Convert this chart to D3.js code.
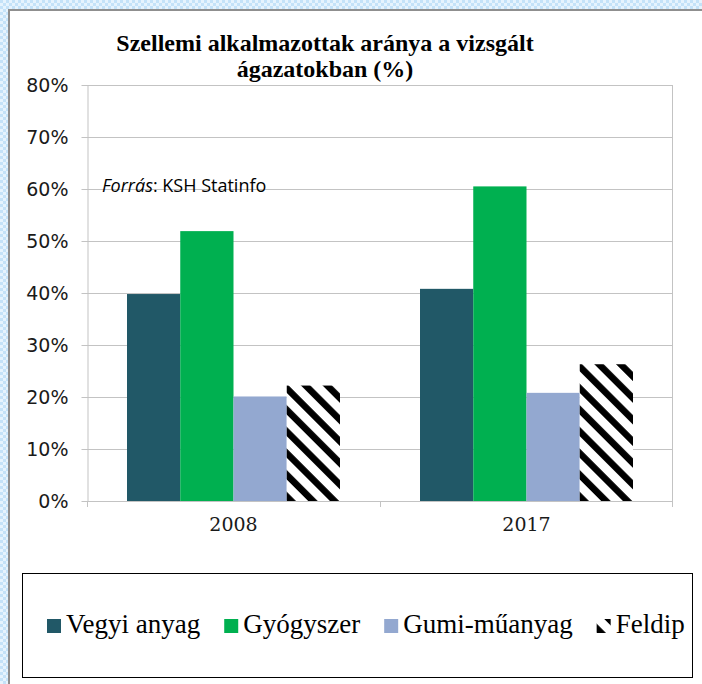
<!DOCTYPE html>
<html>
<head>
<meta charset="utf-8">
<script src="https://cdn.jsdelivr.net/npm/d3@7"></script>
<style>
  body { margin: 0; background: #fff; }
  .serif { font-family: "Liberation Serif", "Times New Roman", serif; }
</style>
</head>
<body>
<div id="chart"></div>
<script>
// Chart data
var years = ["2008", "2017"];
var seriesNames = ["Vegyi anyag", "Gyógyszer", "Gumi-műanyag", "Feldip"];
var vegyiAnyag = [39.8, 40.8];
var gyogyszer = [51.9, 60.5];
var gumiMuanyag = [20.1, 20.8];
var feldip = [22.2, 26.3];
var yTicks = [0, 10, 20, 30, 40, 50, 60, 70, 80];
var titleLines = ["Szellemi alkalmazottak aránya a vizsgált", "ágazatokban (%)"];

var seriesValues = [vegyiAnyag, gyogyszer, gumiMuanyag, feldip];
var colors = ["#215867", "#00b050", "#93a8d0", "url(#stripes)"];

var svgWidth = 702;
var svgHeight = 684;
var margin = { top: 85, right: 29, bottom: 183, left: 87 };
var width = svgWidth - margin.left - margin.right;
var height = svgHeight - margin.top - margin.bottom;

var svg = d3.select("#chart")
  .append("svg")
  .attr("width", svgWidth)
  .attr("height", svgHeight);

var defs = svg.append("defs");

// checkered page background seen at the top and left edges
var checks = defs.append("pattern")
  .attr("id", "checks")
  .attr("patternUnits", "userSpaceOnUse")
  .attr("width", 6)
  .attr("height", 6);
checks.append("rect").attr("width", 6).attr("height", 6).attr("fill", "#e6f3fd");
checks.append("rect").attr("width", 3).attr("height", 3).attr("fill", "#c4e2f8");
checks.append("rect").attr("x", 3).attr("y", 3).attr("width", 3).attr("height", 3).attr("fill", "#c4e2f8");

// wide downward diagonal hatch for Feldip
var stripes = defs.append("pattern")
  .attr("id", "stripes")
  .attr("patternUnits", "userSpaceOnUse")
  .attr("width", 15.3)
  .attr("height", 15.3)
  .attr("patternTransform", "rotate(-45)");
stripes.append("rect").attr("width", 15.3).attr("height", 15.3).attr("fill", "#fff");
stripes.append("rect").attr("width", 6.6).attr("height", 15.3).attr("fill", "#000");

svg.append("rect")
  .attr("width", svgWidth)
  .attr("height", svgHeight)
  .attr("fill", "url(#checks)");

svg.append("rect")
  .attr("x", 8)
  .attr("y", 9)
  .attr("width", svgWidth - 8)
  .attr("height", svgHeight - 9)
  .attr("fill", "#fff");

svg.append("path")
  .attr("d", "M9," + svgHeight + "V10H" + svgWidth)
  .attr("fill", "none")
  .attr("stroke", "#8f8f8f")
  .attr("stroke-width", 2);

// Title, one text element per line
svg.selectAll("text.title")
  .data(titleLines)
  .enter()
  .append("text")
  .attr("class", "title serif")
  .attr("x", 325)
  .attr("y", (d, i) => 51 + i * 26)
  .attr("text-anchor", "middle")
  .style("font-size", "24px")
  .style("font-weight", "bold")
  .attr("fill", "#000")
  .text(d => d);

var chartGroup = svg.append("g")
  .attr("transform", `translate(${margin.left}, ${margin.top})`);

// Scales
var x0 = d3.scaleBand()
  .domain(years)
  .range([0, width]);

var x1 = d3.scaleBand()
  .domain(seriesNames)
  .range([40, x0.bandwidth() - 40]);

var yScale = d3.scaleLinear()
  .domain([0, 80])
  .range([height, 0]);

// Gridlines
chartGroup.selectAll("line.grid")
  .data(yTicks)
  .enter()
  .append("line")
  .classed("grid", true)
  .attr("x1", 0)
  .attr("x2", width)
  .attr("y1", d => Math.round(yScale(d)) + 0.5)
  .attr("y2", d => Math.round(yScale(d)) + 0.5)
  .attr("stroke", "#c3c3c3")
  .attr("stroke-width", 1);

// Y axis
var leftAxis = d3.axisLeft(yScale)
  .tickValues(yTicks)
  .tickSizeInner(6)
  .tickSizeOuter(0)
  .tickPadding(13)
  .tickFormat(d => d + "%");

var yAxis = chartGroup.append("g")
  .attr("transform", "translate(0.5,0)")
  .call(leftAxis);
yAxis.select(".domain").attr("stroke", "#c3c3c3");
yAxis.selectAll(".tick line").attr("stroke", "#c3c3c3");
yAxis.selectAll(".tick text")
  .style("font-family", "'DejaVu Sans', Verdana, sans-serif")
  .style("font-size", "19px")
  .attr("fill", "#1a1a1a");

// right border of plot area
chartGroup.append("line")
  .attr("x1", width - 0.5)
  .attr("x2", width - 0.5)
  .attr("y1", 0)
  .attr("y2", height + 6)
  .attr("stroke", "#c3c3c3");

// category boundary ticks on x axis
chartGroup.selectAll("line.xtick")
  .data(years)
  .enter()
  .append("line")
  .classed("xtick", true)
  .attr("x1", d => Math.round(x0(d)) + 0.5)
  .attr("x2", d => Math.round(x0(d)) + 0.5)
  .attr("y1", height)
  .attr("y2", height + 6)
  .attr("stroke", "#c3c3c3");

// Bars
var groups = chartGroup.selectAll("g.year")
  .data(years)
  .enter()
  .append("g")
  .classed("year", true)
  .attr("transform", d => `translate(${x0(d)},0)`);

groups.selectAll("rect")
  .data((year, i) => seriesNames.map((name, s) => ({ name: name, s: s, value: seriesValues[s][i] })))
  .enter()
  .append("rect")
  .attr("x", d => x1(d.name))
  .attr("y", d => yScale(d.value))
  .attr("width", x1.bandwidth())
  .attr("height", d => height - yScale(d.value))
  .attr("fill", d => colors[d.s]);

// X labels
var bottomAxis = d3.axisBottom(x0)
  .tickSize(0)
  .tickPadding(17);
var xAxis = chartGroup.append("g")
  .attr("transform", `translate(0, ${height})`)
  .call(bottomAxis);
xAxis.select(".domain").remove();
xAxis.selectAll(".tick text")
  .style("font-family", "'DejaVu Serif', Georgia, serif")
  .style("font-size", "19px")
  .attr("fill", "#1a1a1a");

// Source note
var source = chartGroup.append("text")
  .attr("x", 15)
  .attr("y", yScale(60) + 3)
  .style("font-family", "'Open Sans', sans-serif")
  .style("font-size", "18px")
  .attr("fill", "#000");
source.append("tspan").style("font-style", "italic").text("Forrás");
source.append("tspan").text(": KSH Statinfo");

// Legend
svg.append("rect")
  .attr("x", 22.5)
  .attr("y", 573.5)
  .attr("width", 670)
  .attr("height", 104)
  .attr("fill", "#fff")
  .attr("stroke", "#000")
  .attr("stroke-width", 1);

var legendX = 47;
seriesNames.forEach(function(name, s) {
  var item = svg.append("g").attr("transform", `translate(${legendX}, 633)`);
  item.append("rect")
    .attr("x", 0)
    .attr("y", -14)
    .attr("width", 14)
    .attr("height", 14)
    .attr("fill", colors[s]);
  var label = item.append("text")
    .attr("class", "serif")
    .attr("x", 19)
    .attr("y", 0)
    .style("font-size", "27px")
    .attr("fill", "#000")
    .text(name);
  legendX += 19 + label.node().getComputedTextLength() + 24;
});
</script>
</body>
</html>
